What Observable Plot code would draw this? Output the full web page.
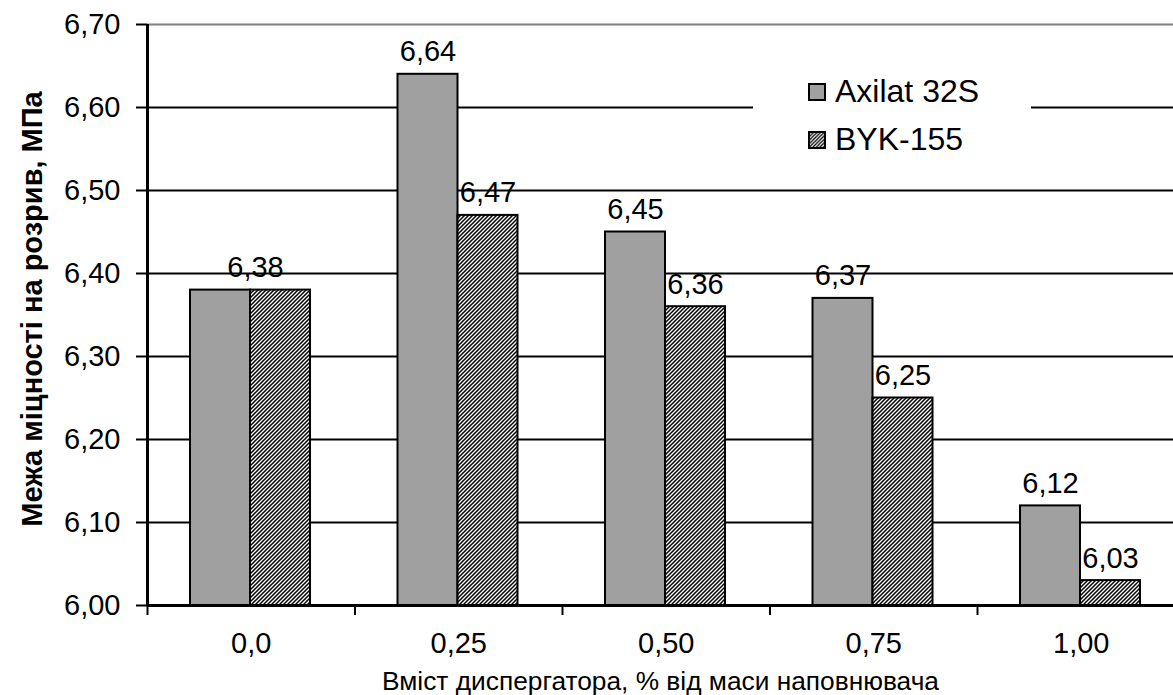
<!DOCTYPE html>
<html>
<head>
<meta charset="utf-8">
<script src="https://cdn.jsdelivr.net/npm/d3@7"></script>
<script src="https://cdn.jsdelivr.net/npm/@observablehq/plot@0.6"></script>
<style>
  html, body { margin: 0; padding: 0; background: #fff; }
  #wrap { position: relative; width: 1173px; height: 695px; font-family: "Liberation Sans", Arial, sans-serif; }
  #legend { position: absolute; left: 753px; top: 72px; width: 278px; height: 92px; background: #fff; }
  .li { position: absolute; left: 55px; display: flex; align-items: center; font-size: 32px; color: #000; }
  .li svg { margin-right: 9px; }
</style>
</head>
<body>
<div id="wrap"></div>
<script>
const categories = ["0,0", "0,25", "0,50", "0,75", "1,00"];
const seriesNames = ["Axilat 32S", "BYK-155"];
const axilat = [6.38, 6.64, 6.45, 6.37, 6.12];
const byk = [6.38, 6.47, 6.36, 6.25, 6.03];
const yTicks = [6.0, 6.1, 6.2, 6.3, 6.4, 6.5, 6.6, 6.7];
const yTickLabels = ["6,00", "6,10", "6,20", "6,30", "6,40", "6,50", "6,60", "6,70"];
const xTitle = "Вміст диспергатора, % від маси наповнювача";
const yTitle = "Межа міцності на розрив, МПа";

const yMin = yTicks[0], yMax = yTicks[yTicks.length - 1];
const fmt = v => v.toFixed(2).replace(".", ",");

const rows = categories.map((c, i) => ({c, i, a: axilat[i], b: byk[i]}));
const labelsA = rows.filter(r => r.a !== r.b).map(r => ({i: r.i, v: r.a, t: fmt(r.a)}));
const labelsB = rows.filter(r => r.a !== r.b).map(r => ({i: r.i, v: r.b, t: fmt(r.b)}));
const labelsBoth = rows.filter(r => r.a === r.b).map(r => ({i: r.i, v: r.a, t: fmt(r.a)}));

const FONT = "Liberation Sans, Arial, sans-serif";
const step = 207.5;
const inset0 = 43, barW = 60;
const NUM = 29;

const textOpts = {y: "v", text: "t", lineAnchor: "bottom", dy: -13, fontSize: NUM, fill: "#000"};

const chart = Plot.plot({
  width: 1173,
  height: 695,
  marginLeft: 147,
  marginRight: 0,
  marginTop: 24,
  marginBottom: 90,
  style: {fontFamily: FONT, background: "white", overflow: "hidden"},
  x: {type: "linear", domain: [0, categories.length], range: [147, 147 + step * categories.length], axis: null},
  y: {domain: [yMin, yMax], axis: null},
  marks: [
    Plot.ruleY(yTicks.filter(v => v > yMin && v < yMax), {stroke: "#000", strokeWidth: 2}),
    Plot.ruleY([yMax], {stroke: "#808080", strokeWidth: 2}),
    Plot.rect(rows, {x1: d => d.i, x2: d => d.i + 1, y1: yMin, y2: d => d.a,
      insetLeft: inset0, insetRight: step - inset0 - barW, fill: "#a0a0a0", stroke: "#000", strokeWidth: 2}),
    Plot.rect(rows, {x1: d => d.i, x2: d => d.i + 1, y1: yMin, y2: d => d.b,
      insetLeft: inset0 + barW, insetRight: step - inset0 - 2 * barW, fill: "url(#hatch)", stroke: "#000", strokeWidth: 2}),
    Plot.text(labelsA, {...textOpts, x: d => d.i + (inset0 + barW / 2) / step}),
    Plot.text(labelsB, {...textOpts, x: d => d.i + (inset0 + 1.5 * barW) / step}),
    Plot.text(labelsBoth, {...textOpts, x: d => d.i + (inset0 + barW) / step, dx: 5}),
    Plot.ruleX([0], {y1: yMin, y2: yMax, stroke: "#000", strokeWidth: 3}),
    Plot.ruleY([yMin], {stroke: "#000", strokeWidth: 3}),
    Plot.axisY({ticks: yTicks, tickSize: 11, tickPadding: 16, tickFormat: (d, k) => yTickLabels[k], fontSize: NUM, stroke: "#000", strokeWidth: 2, color: "#000", label: null}),
    Plot.axisX({ticks: d3.range(0, categories.length), tickSize: 10, tickFormat: () => "", strokeWidth: 2, stroke: "#000", label: null}),
    Plot.axisX({ticks: d3.range(0, categories.length).map(i => i + 0.5), tickSize: 0, tickPadding: 27, tickFormat: (d) => categories[Math.floor(d)], fontSize: NUM, fill: "#000", label: null}),
    Plot.text([xTitle], {frameAnchor: "bottom", dy: 84, text: d => d, fontSize: 26.3, fill: "#000"}),
    Plot.text([yTitle], {frameAnchor: "left", textAnchor: "middle", lineAnchor: "middle", rotate: -90, dx: -115, dy: -6, text: d => d, fontSize: 29, fontWeight: "bold", fill: "#000"})
  ]
});

const ns = "http://www.w3.org/2000/svg";
function addPattern(svg, id) {
  const defs = document.createElementNS(ns, "defs");
  defs.innerHTML = `<pattern id="${id}" patternUnits="userSpaceOnUse" width="4" height="4">
    <rect width="4" height="4" fill="#fff"/>
    <path d="M-1,1 L1,-1 M0,4 L4,0 M3,5 L5,3" stroke="#000" stroke-width="1.5"/>
  </pattern>`;
  svg.insertBefore(defs, svg.firstChild);
}
addPattern(chart, "hatch");

const wrap = document.getElementById("wrap");
wrap.appendChild(chart);

const legend = document.createElement("div");
legend.id = "legend";
legend.innerHTML = `
  <div class="li" style="top:1px"><svg width="18" height="18"><rect x="1" y="1" width="16" height="16" fill="#a0a0a0" stroke="#000" stroke-width="2"/></svg>${seriesNames[0]}</div>
  <div class="li" style="top:49px"><svg width="18" height="18"><defs><pattern id="hatchL" patternUnits="userSpaceOnUse" width="3.5" height="3.5"><rect width="3.5" height="3.5" fill="#fff"/><path d="M-1,1 L1,-1 M0,3.5 L3.5,0 M2.5,4.5 L4.5,2.5" stroke="#000" stroke-width="1.3"/></pattern></defs><rect x="1" y="1" width="16" height="16" fill="url(#hatchL)" stroke="#000" stroke-width="2"/></svg>${seriesNames[1]}</div>`;
wrap.appendChild(legend);
</script>
</body>
</html>
